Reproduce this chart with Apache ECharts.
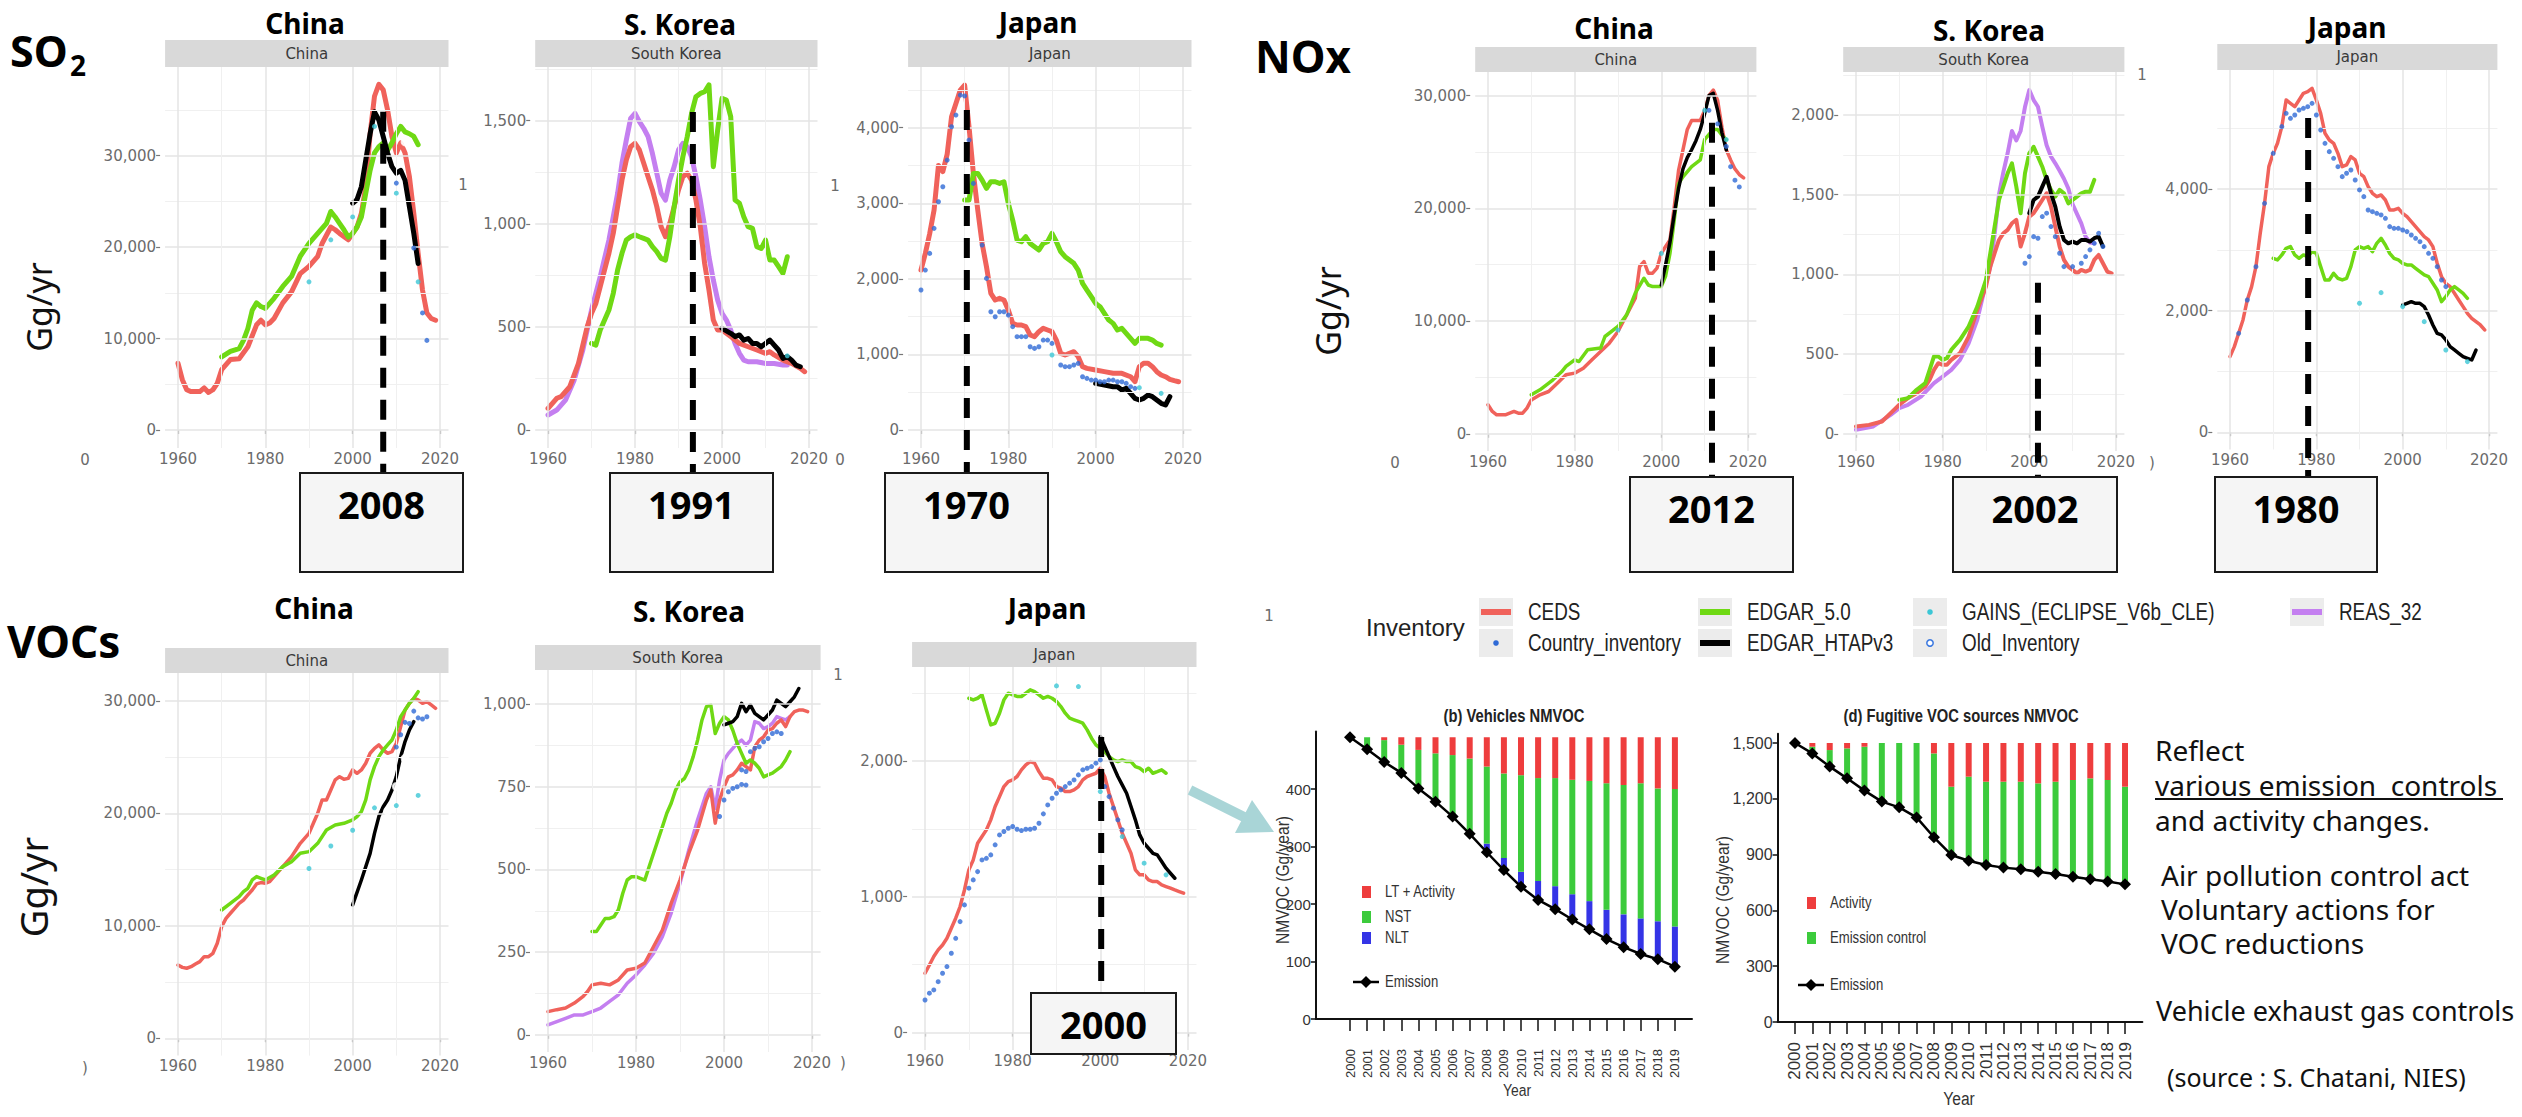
<!DOCTYPE html>
<html>
<head>
<meta charset="utf-8">
<script src="https://cdn.jsdelivr.net/npm/echarts@6.0.0/dist/echarts.min.js"></script>
<style>
html,body{margin:0;padding:0;background:#ffffff;}
#chart{width:2522px;height:1117px;}
</style>
</head>
<body>
<div id="chart"></div>
<script>
// ================= DATA =================
// ---- SO2 ----
const so2ChinaCEDS = [[1960,7300],[1961,5500],[1962,4400],[1963,4200],[1965,4200],[1966,4600],[1967,4100],[1968,4400],[1969,5100],[1970,6600],[1972,7700],[1974,7800],[1976,9100],[1978,11500],[1979,12000],[1980,11500],[1981,11700],[1982,12200],[1984,13900],[1986,15100],[1988,17100],[1990,17900],[1992,19000],[1993,20400],[1995,22200],[1996,21900],[1997,21500],[1999,20800],[2000,21500],[2001,22200],[2002,23700],[2003,26600],[2004,32400],[2005,36500],[2006,37800],[2007,37200],[2008,35000],[2009,32100],[2010,30300],[2011,31400],[2012,30300],[2013,27700],[2014,23700],[2015,19300],[2016,15300],[2017,12800],[2018,12200],[2019,12000]];
const so2ChinaEDGAR5 = [[1970,8000],[1972,8600],[1974,8900],[1975,9800],[1976,11100],[1977,13100],[1978,13900],[1979,13500],[1980,13300],[1982,14400],[1984,15700],[1986,16800],[1988,19000],[1990,20400],[1992,21500],[1994,22600],[1995,23900],[1996,23300],[1997,22600],[1998,21900],[1999,21100],[2000,21500],[2001,22200],[2002,23300],[2003,25900],[2004,28400],[2005,30300],[2006,31000],[2007,31400],[2008,30600],[2009,31400],[2010,32400],[2011,33200],[2012,32600],[2013,32400],[2014,32100],[2015,31200]];
const so2ChinaHTAP = [[2000,24800],[2001,25200],[2002,26600],[2003,29500],[2004,32400],[2005,34800],[2006,33900],[2007,32100],[2008,30300],[2009,28800],[2010,28100],[2011,28400],[2012,27300],[2013,24400],[2014,21500],[2015,18200]];
const so2ChinaCountry = [[2010,27000],[2014,19900],[2016,12800],[2017,9800]];
const so2ChinaOld = [[2012,31500]];
const so2ChinaGAINS = [[1990,16200],[1995,20800],[2000,23300],[2005,33200],[2010,25900],[2015,16200]];

const so2KoreaCEDS = [[1960,105],[1962,154],[1963,162],[1965,210],[1967,323],[1969,501],[1970,566],[1971,614],[1972,695],[1973,776],[1974,857],[1975,954],[1976,1083],[1977,1212],[1978,1309],[1979,1374],[1980,1390],[1981,1358],[1982,1293],[1983,1228],[1984,1164],[1985,1083],[1986,986],[1987,937],[1988,1002],[1989,1083],[1990,1164],[1991,1228],[1992,1245],[1993,1212],[1994,1115],[1995,986],[1996,808],[1997,679],[1998,533],[1999,485],[2000,485],[2001,469],[2002,453],[2004,420],[2006,404],[2008,388],[2010,372],[2011,380],[2012,364],[2014,339],[2016,323],[2018,299],[2019,283]];
const so2KoreaREAS = [[1960,73],[1962,97],[1964,145],[1966,242],[1968,388],[1970,582],[1972,744],[1974,921],[1976,1148],[1977,1293],[1978,1406],[1979,1511],[1980,1535],[1981,1495],[1982,1463],[1983,1422],[1984,1341],[1985,1245],[1986,1148],[1987,1115],[1988,1212],[1989,1277],[1990,1358],[1991,1390],[1992,1374],[1993,1325],[1994,1228],[1995,1115],[1996,986],[1997,840],[1998,727],[1999,630],[2000,566],[2001,533],[2002,485],[2003,420],[2004,372],[2005,339],[2006,331],[2008,331],[2010,323],[2012,323],[2014,315],[2015,315]];
const so2KoreaEDGAR5 = [[1970,420],[1971,412],[1972,485],[1973,533],[1974,582],[1975,663],[1976,776],[1977,857],[1978,921],[1979,937],[1980,946],[1981,937],[1982,929],[1983,921],[1984,889],[1985,865],[1986,832],[1987,824],[1988,937],[1989,1083],[1990,1212],[1991,1325],[1992,1422],[1993,1535],[1994,1616],[1995,1632],[1996,1640],[1997,1673],[1998,1277],[1999,1455],[2000,1608],[2001,1600],[2002,1519],[2003,1115],[2004,1099],[2005,1034],[2006,986],[2007,978],[2008,889],[2009,880],[2010,921],[2011,824],[2012,824],[2013,792],[2014,760],[2015,840]];
const so2KoreaHTAP = [[2000,493],[2002,469],[2003,453],[2004,461],[2005,436],[2006,444],[2007,420],[2008,420],[2009,404],[2010,420],[2011,436],[2012,412],[2013,388],[2014,347],[2015,356],[2016,339],[2017,315],[2018,307]];
const so2KoreaGAINS = [[2015,360]];

const so2JapanCEDS = [[1960,2116],[1961,2337],[1962,2601],[1963,2910],[1964,3500],[1965,3420],[1966,3650],[1967,4145],[1968,4321],[1969,4497],[1970,4563],[1971,4012],[1972,3395],[1973,2910],[1974,2469],[1975,2160],[1976,1808],[1977,1720],[1978,1742],[1979,1720],[1980,1587],[1981,1411],[1982,1389],[1983,1389],[1984,1367],[1985,1257],[1986,1235],[1987,1301],[1988,1345],[1989,1323],[1990,1301],[1991,1190],[1992,1014],[1993,992],[1994,1014],[1995,1036],[1996,970],[1997,838],[1998,816],[2000,794],[2002,772],[2004,750],[2006,750],[2008,705],[2009,639],[2010,838],[2011,882],[2012,882],[2013,838],[2014,772],[2015,728],[2016,705],[2017,670],[2018,653],[2019,639]];
const so2JapanEDGAR5 = [[1970,3042],[1971,3042],[1972,3395],[1973,3395],[1974,3307],[1975,3197],[1976,3285],[1977,3285],[1978,3263],[1979,3285],[1980,2998],[1981,2778],[1982,2513],[1983,2491],[1984,2557],[1985,2469],[1986,2425],[1987,2381],[1988,2469],[1989,2491],[1990,2601],[1991,2491],[1992,2359],[1993,2293],[1994,2249],[1995,2205],[1996,2116],[1997,1940],[1998,1852],[1999,1764],[2000,1675],[2001,1631],[2002,1543],[2003,1455],[2004,1411],[2005,1323],[2006,1345],[2007,1279],[2008,1213],[2009,1146],[2010,1213],[2011,1213],[2012,1213],[2013,1190],[2014,1146],[2015,1124]];
const so2JapanHTAP = [[2000,617],[2002,595],[2004,573],[2005,573],[2006,529],[2007,551],[2008,485],[2009,419],[2010,397],[2011,419],[2012,463],[2013,441],[2014,397],[2015,353],[2016,331],[2017,441]];
const so2JapanCountry = [[1960,1852],[1961,2116],[1962,2337],[1963,2668],[1964,3020],[1965,3219],[1966,3571],[1967,4012],[1968,4167],[1969,4431],[1970,4420],[1971,3836],[1972,3263],[1974,2447],[1975,2006],[1976,1565],[1977,1499],[1978,1565],[1979,1565],[1980,1521],[1981,1367],[1982,1235],[1983,1235],[1984,1235],[1985,1102],[1986,1080],[1987,1102],[1988,1190],[1989,1190],[1990,1146],[1992,860],[1993,838],[1994,838],[1995,860],[1996,882],[1997,705],[1998,683],[1999,661],[2000,661],[2001,639],[2002,639],[2003,661],[2004,661],[2005,639],[2006,639],[2007,617],[2008,573],[2009,551]];
const so2JapanGAINS = [[1990,992],[2010,560],[2015,485]];

// ---- NOx ----
const noxChinaCEDS = [[1960,2570],[1961,1980],[1962,1680],[1964,1680],[1966,1980],[1967,1830],[1968,1830],[1969,2280],[1970,3000],[1972,3460],[1974,3750],[1976,4490],[1978,5230],[1980,5380],[1982,5820],[1984,6560],[1986,7300],[1988,8040],[1990,9070],[1992,10550],[1994,12030],[1995,14840],[1996,15280],[1997,14250],[1998,14250],[1999,14690],[2000,16020],[2001,16610],[2002,17200],[2003,20160],[2004,23400],[2005,25200],[2006,27000],[2007,27800],[2008,27800],[2009,27800],[2010,28700],[2011,30000],[2012,30500],[2013,29600],[2014,27200],[2015,25200],[2016,24300],[2017,23500],[2018,23000],[2019,22700]];
const noxChinaEDGAR5 = [[1970,3460],[1972,3900],[1975,4790],[1977,5500],[1978,5970],[1980,6560],[1981,6410],[1983,7450],[1986,7600],[1987,8630],[1990,9520],[1992,10550],[1994,12470],[1996,13800],[1997,13200],[1998,13060],[2000,13060],[2001,14000],[2002,16000],[2003,19000],[2004,22200],[2005,22800],[2007,23700],[2009,24300],[2010,26100],[2012,27000],[2013,27000],[2014,26500],[2015,26100]];
const noxChinaHTAP = [[2000,13200],[2001,15000],[2002,17000],[2003,19500],[2004,21800],[2005,23500],[2006,24500],[2007,25200],[2008,26000],[2009,27000],[2010,28400],[2011,30000],[2012,30200],[2013,28700],[2014,26700],[2015,25200]];
const noxChinaCountry = [[2011,28700],[2013,27500],[2015,25500],[2016,23700],[2017,22500],[2018,21900]];
const noxChinaGAINS = [[1990,9200],[2000,16000],[2010,28700],[2015,26100]];

const noxKoreaCEDS = [[1960,46],[1963,56],[1966,77],[1968,130],[1970,182],[1972,224],[1974,255],[1976,297],[1977,339],[1978,401],[1979,443],[1980,433],[1981,433],[1982,464],[1984,506],[1986,610],[1988,777],[1990,924],[1991,1049],[1992,1133],[1993,1216],[1994,1258],[1995,1279],[1996,1321],[1997,1342],[1998,1175],[1999,1258],[2000,1363],[2001,1384],[2002,1425],[2003,1467],[2004,1509],[2005,1425],[2006,1300],[2007,1175],[2008,1091],[2009,1049],[2010,1028],[2011,1007],[2012,1028],[2013,1018],[2014,1028],[2015,1091],[2016,1122],[2017,1070],[2018,1018],[2019,1007]];
const noxKoreaREAS = [[1960,25],[1964,46],[1968,119],[1970,161],[1972,182],[1975,234],[1978,318],[1980,359],[1982,401],[1984,464],[1986,568],[1988,715],[1990,945],[1991,1050],[1992,1250],[1993,1500],[1994,1640],[1995,1760],[1996,1900],[1997,1840],[1998,1900],[1999,2050],[2000,2157],[2001,2094],[2002,2052],[2003,1927],[2004,1810],[2005,1740],[2006,1697],[2007,1650],[2008,1600],[2009,1540],[2010,1440],[2011,1380],[2012,1320],[2013,1237],[2014,1200],[2015,1195]];
const noxKoreaEDGAR5 = [[1970,213],[1972,224],[1974,276],[1976,318],[1977,401],[1978,485],[1979,485],[1980,464],[1981,474],[1982,527],[1984,589],[1986,673],[1988,798],[1990,966],[1991,1133],[1992,1300],[1993,1467],[1994,1551],[1995,1634],[1996,1697],[1997,1551],[1998,1384],[1999,1634],[2000,1760],[2001,1801],[2002,1739],[2003,1676],[2004,1593],[2005,1530],[2006,1488],[2007,1530],[2008,1509],[2009,1446],[2010,1467],[2011,1488],[2012,1509],[2013,1519],[2014,1519],[2015,1593]];
const noxKoreaHTAP = [[2000,1384],[2001,1467],[2002,1488],[2003,1551],[2004,1613],[2005,1509],[2006,1425],[2007,1300],[2008,1216],[2009,1195],[2010,1206],[2011,1195],[2012,1216],[2013,1216],[2014,1206],[2015,1227],[2016,1237],[2017,1175]];
const noxKoreaCountry = [[1999,1070],[2000,1112],[2001,1237],[2002,1227],[2003,1363],[2004,1384],[2005,1300],[2006,1237],[2007,1133],[2008,1049],[2010,1049],[2012,1070],[2013,1112],[2014,1154],[2015,1195],[2016,1258],[2017,1175]];

const noxJapanCEDS = [[1960,1244],[1961,1408],[1962,1627],[1963,1847],[1964,2175],[1965,2395],[1966,2723],[1967,3271],[1968,3764],[1969,4367],[1970,4586],[1971,4751],[1972,5025],[1973,5463],[1974,5408],[1975,5353],[1976,5463],[1977,5573],[1978,5600],[1979,5655],[1980,5463],[1981,5244],[1982,4915],[1983,4805],[1984,4751],[1985,4586],[1986,4367],[1987,4395],[1988,4532],[1989,4477],[1990,4258],[1991,4203],[1992,4038],[1993,3929],[1994,3874],[1995,3901],[1996,3819],[1997,3655],[1998,3655],[1999,3682],[2000,3600],[2001,3545],[2002,3463],[2003,3381],[2004,3299],[2005,3216],[2006,3162],[2007,3052],[2008,2778],[2009,2559],[2010,2449],[2011,2395],[2012,2285],[2013,2175],[2014,2066],[2015,1956],[2016,1874],[2017,1819],[2018,1764],[2019,1682]];
const noxJapanEDGAR5 = [[1970,2860],[1971,2833],[1972,2915],[1973,3025],[1974,3052],[1975,2915],[1976,2860],[1977,2915],[1978,2888],[1979,2970],[1980,2942],[1981,2723],[1982,2504],[1983,2504],[1984,2614],[1985,2532],[1986,2504],[1987,2532],[1988,2723],[1989,2997],[1990,3052],[1991,3025],[1992,3052],[1993,2970],[1994,3107],[1995,3189],[1996,3079],[1997,2942],[1998,2860],[1999,2833],[2000,2778],[2001,2751],[2002,2751],[2003,2696],[2004,2641],[2005,2586],[2006,2559],[2007,2449],[2008,2340],[2009,2148],[2010,2230],[2011,2340],[2012,2395],[2013,2340],[2014,2285],[2015,2203]];
const noxJapanHTAP = [[2000,2093],[2001,2121],[2002,2148],[2003,2121],[2004,2121],[2005,2066],[2006,1929],[2007,1764],[2008,1627],[2009,1600],[2010,1518],[2011,1408],[2012,1353],[2013,1299],[2014,1244],[2015,1216],[2016,1189],[2017,1353]];
const noxJapanCountry = [[1962,1627],[1964,2175],[1966,2723],[1968,3764],[1970,4586],[1972,5025],[1973,5244],[1974,5162],[1975,5216],[1976,5298],[1977,5326],[1978,5353],[1979,5408],[1980,5216],[1981,4970],[1982,4751],[1983,4614],[1984,4504],[1985,4367],[1986,4203],[1987,4258],[1988,4312],[1989,4148],[1990,3984],[1991,3874],[1992,3655],[1993,3627],[1994,3600],[1995,3573],[1996,3518],[1997,3381],[1998,3353],[1999,3353],[2000,3326],[2001,3299],[2002,3244],[2003,3189],[2004,3134],[2005,3052],[2006,2942],[2007,2860],[2008,2723],[2009,2504],[2010,2395]];
const noxJapanGAINS = [[1990,2121],[1995,2296],[2000,2066],[2005,1819],[2010,1353],[2015,1162]];

// ---- VOCs ----
const vocChinaCEDS = [[1960,6520],[1961,6310],[1962,6230],[1963,6370],[1964,6610],[1965,6820],[1966,7260],[1967,7260],[1968,7560],[1969,8450],[1970,9930],[1971,10670],[1972,11120],[1973,11560],[1974,12000],[1975,12300],[1976,12750],[1977,13190],[1978,13730],[1979,13850],[1980,13790],[1981,13930],[1982,14380],[1983,14820],[1984,15270],[1985,15710],[1986,16160],[1987,16750],[1988,17340],[1989,17790],[1990,18230],[1991,19120],[1992,20010],[1993,21200],[1994,21200],[1995,22090],[1996,22980],[1997,23270],[1998,23040],[1999,23120],[2000,23870],[2001,23570],[2002,23870],[2003,24460],[2004,25350],[2005,25790],[2006,26090],[2007,25640],[2008,25350],[2009,25500],[2010,26240],[2011,27720],[2012,29200],[2013,29800],[2014,30240],[2015,30090],[2016,29800],[2017,29940],[2018,29650],[2019,29350]];
const vocChinaEDGAR5 = [[1970,11410],[1972,12000],[1974,12600],[1975,13040],[1976,13340],[1977,14080],[1978,14380],[1979,14230],[1980,14080],[1982,14530],[1984,15270],[1986,15710],[1988,16450],[1990,16600],[1992,17340],[1994,18530],[1996,18970],[1998,19120],[2000,19420],[2001,19720],[2002,20160],[2003,21200],[2004,22980],[2005,24160],[2006,25050],[2007,25640],[2008,26090],[2009,26530],[2010,27420],[2011,28610],[2012,29200],[2013,29800],[2014,30240],[2015,30830]];
const vocChinaHTAP = [[2000,11860],[2002,14080],[2004,16450],[2005,18230],[2006,19720],[2007,20600],[2008,21200],[2009,22090],[2010,23270],[2011,25050],[2012,26390],[2013,27420],[2014,28160]];
const vocChinaCountry = [[2010,25900],[2011,27000],[2012,28100],[2013,28000],[2014,29100],[2015,28500],[2016,28400],[2017,28600]];
const vocChinaOld = [[2008,20200],[2010,22400],[2012,24900]];
const vocChinaGAINS = [[1990,15100],[1995,17100],[2000,18500],[2005,20500],[2010,20700],[2015,21600]];

const vocKoreaCEDS = [[1960,70],[1962,76],[1964,81],[1966,96],[1968,116],[1969,131],[1970,151],[1972,156],[1974,151],[1976,166],[1978,196],[1980,201],[1982,217],[1984,267],[1986,317],[1988,398],[1990,468],[1992,549],[1994,619],[1996,710],[1997,740],[1998,640],[1999,710],[2000,750],[2001,780],[2002,786],[2003,801],[2004,821],[2005,811],[2006,801],[2007,871],[2008,891],[2009,901],[2010,921],[2011,926],[2012,942],[2013,952],[2014,932],[2015,962],[2016,977],[2017,982],[2018,982],[2019,977]];
const vocKoreaREAS = [[1960,30],[1962,40],[1964,50],[1966,60],[1968,60],[1970,70],[1972,81],[1974,101],[1976,121],[1978,156],[1980,181],[1982,211],[1984,247],[1986,297],[1988,368],[1990,458],[1992,559],[1994,650],[1996,730],[1997,750],[1998,685],[1999,770],[2000,831],[2001,851],[2002,866],[2003,881],[2004,891],[2005,876],[2006,891],[2007,947],[2008,942],[2009,926],[2010,932],[2011,942],[2012,962],[2013,957],[2014,952],[2015,962]];
const vocKoreaEDGAR5 = [[1970,312],[1971,312],[1972,332],[1973,352],[1974,352],[1975,357],[1976,378],[1977,428],[1978,468],[1979,478],[1980,478],[1981,473],[1982,468],[1983,509],[1984,549],[1985,589],[1986,629],[1987,670],[1988,700],[1989,740],[1990,765],[1991,775],[1992,801],[1993,841],[1994,891],[1995,952],[1996,992],[1997,997],[1998,911],[1999,942],[2000,962],[2001,952],[2002,921],[2003,881],[2004,851],[2005,821],[2006,831],[2007,821],[2008,806],[2009,780],[2010,786],[2011,791],[2012,801],[2013,811],[2014,831],[2015,856]];
const vocKoreaHTAP = [[2000,937],[2001,942],[2002,947],[2003,962],[2004,1002],[2005,977],[2006,997],[2007,972],[2008,962],[2009,952],[2010,967],[2011,982],[2012,1012],[2013,1002],[2014,992],[2015,1007],[2016,1022],[2017,1047]];
const vocKoreaCountry = [[1999,660],[2000,710],[2001,735],[2002,745],[2003,750],[2004,757],[2005,755],[2004,801],[2005,796],[2006,856],[2007,866],[2008,871],[2009,886],[2010,896],[2011,911],[2012,916],[2013,911]];

const vocJapanCEDS = [[1960,437],[1961,498],[1962,560],[1963,609],[1964,645],[1965,694],[1966,768],[1967,842],[1968,928],[1969,1050],[1970,1198],[1971,1271],[1972,1394],[1973,1443],[1974,1492],[1975,1566],[1976,1664],[1977,1737],[1978,1811],[1979,1848],[1980,1860],[1981,1885],[1982,1934],[1983,1971],[1984,1995],[1985,1983],[1986,1921],[1987,1872],[1988,1872],[1989,1860],[1990,1811],[1991,1799],[1992,1774],[1993,1774],[1994,1787],[1995,1811],[1996,1860],[1997,1885],[1998,1897],[1999,1909],[2000,1946],[2001,1885],[2002,1762],[2003,1664],[2004,1566],[2005,1467],[2006,1394],[2007,1320],[2008,1198],[2009,1161],[2010,1161],[2011,1124],[2012,1112],[2013,1112],[2014,1087],[2015,1075],[2016,1063],[2017,1050],[2018,1038],[2019,1026]];
const vocJapanEDGAR5 = [[1970,2461],[1971,2449],[1972,2461],[1973,2486],[1974,2375],[1975,2265],[1976,2277],[1977,2351],[1978,2449],[1979,2498],[1980,2486],[1981,2474],[1982,2474],[1983,2498],[1984,2523],[1985,2510],[1986,2486],[1987,2461],[1988,2474],[1989,2461],[1990,2437],[1991,2400],[1992,2351],[1993,2314],[1994,2302],[1995,2290],[1996,2277],[1997,2228],[1998,2167],[1999,2118],[2000,2093],[2001,2069],[2002,2032],[2003,2007],[2004,1995],[2005,2007],[2006,1995],[2007,1995],[2008,1958],[2009,1946],[2010,1921],[2011,1946],[2012,1909],[2013,1921],[2014,1934],[2015,1909]];
const vocJapanHTAP = [[2000,2179],[2001,2106],[2002,2032],[2003,1958],[2004,1885],[2005,1823],[2006,1762],[2007,1664],[2008,1566],[2009,1455],[2010,1394],[2011,1357],[2012,1320],[2013,1308],[2014,1259],[2015,1210],[2016,1173],[2017,1136]];
const vocJapanCountry = [[1960,240],[1961,290],[1962,314],[1963,375],[1964,437],[1965,486],[1966,584],[1967,694],[1968,817],[1969,940],[1970,1063],[1971,1124],[1972,1185],[1973,1271],[1974,1283],[1975,1308],[1976,1382],[1977,1455],[1978,1480],[1979,1504],[1980,1517],[1981,1497],[1982,1487],[1983,1497],[1984,1497],[1985,1504],[1986,1541],[1987,1610],[1988,1676],[1989,1725],[1990,1762],[1991,1787],[1992,1811],[1993,1836],[1994,1860],[1995,1897],[1996,1934],[1997,1946],[1998,1958],[1999,1983],[2000,2007],[2001,1811],[2002,1737],[2003,1652],[2004,1566],[2005,1492]];
const vocJapanGAINS = [[1990,2552],[1995,2547],[2000,1774],[2005,1443],[2010,1247],[2015,1161]];

// ---- peak-year annotations ----
const peakLabels = ['2008','1991','1970','2012','2002','1980','2000'];
const dashYears  = [2007, 1993.3, 1970.5, 2011.7, 2002.0, 1978.1, 2000.2];
const dashTops   = [34800, 1542, 4234, 27600, 947, 5167, 2176];

// ---- NMVOC decomposition bar charts (Gg/year) ----
const barYears = ['2000','2001','2002','2003','2004','2005','2006','2007','2008','2009','2010','2011','2012','2013','2014','2015','2016','2017','2018','2019'];
const vehEmission = [490,469,447,428,401,378,352,322,290,259,230,207,191,173,156,139,125,113,104,91];
const vehNLT      = [0,0,0,0,0,0,0,0,15,21,26,33,40,44,49,51,57,62,66,70];
const vehNST      = [0,21,38,49,67,84,107,131,134,147,168,179,188,199,209,220,225,235,231,239];
const vehLTAct    = [0,0,5,13,22,28,31,37,51,63,66,71,71,74,76,80,83,80,89,90];
const fugEmission = [1500,1444,1373,1310,1244,1185,1154,1100,993,898,867,844,830,821,808,796,781,767,755,740];
const fugControl  = [0,36,89,161,236,315,346,400,451,367,452,448,462,471,475,496,520,543,546,525];
const fugActivity = [0,20,38,29,20,0,0,0,56,235,181,208,208,208,217,208,199,190,199,235];

// ---- axis tick labels ----
const xTickYears = [1960,1980,2000,2020];
const xMinorYears = [1970,1990,2010];
const vehYTicks = [0,100,200,300,400];
const fugYTicks = [0,300,600,900,1200,1500];

// ================= STYLE / LAYOUT =================
const INV = {
  'CEDS': {color:'#f0625b', kind:'line', z:3},
  'EDGAR_5.0': {color:'#6fd914', kind:'line', z:3},
  'EDGAR_HTAPv3': {color:'#000000', kind:'line', z:4},
  'REAS_32': {color:'#c47ff0', kind:'line', z:3},
  'Country_inventory': {color:'#2f6ad6', kind:'dot', z:5},
  'GAINS_(ECLIPSE_V6b_CLE)': {color:'#3cc7d6', kind:'dot', z:5},
  'Old_Inventory': {color:'#3b78e0', kind:'ring', z:5}
};
const XMIN = 1957.05, XMAX = 2021.95;
const MAJOR = {color:'#e4e4e4', width:1.5, type:'solid'};
const MINOR = {color:'#f0f0f0', width:1, type:'solid'};

const panels = [
  {strip:'China', g:[165.1,67,283.4,381], sh:27, yr:[-1970,39700], yt:[0,10000,20000,30000], ym:[5000,15000,25000,35000], lw:5,
   s:[['CEDS',so2ChinaCEDS],['EDGAR_5.0',so2ChinaEDGAR5],['EDGAR_HTAPv3',so2ChinaHTAP],['Country_inventory',so2ChinaCountry],['GAINS_(ECLIPSE_V6b_CLE)',so2ChinaGAINS],['Old_Inventory',so2ChinaOld]]},
  {strip:'South Korea', g:[535.2,67,282.3,381], sh:27, yr:[-87,1760], yt:[0,500,1000,1500], ym:[250,750,1250,1750], lw:5,
   s:[['REAS_32',so2KoreaREAS],['CEDS',so2KoreaCEDS],['EDGAR_5.0',so2KoreaEDGAR5],['EDGAR_HTAPv3',so2KoreaHTAP],['GAINS_(ECLIPSE_V6b_CLE)',so2KoreaGAINS]]},
  {strip:'Japan', g:[908.1,67,283.4,381], sh:27, yr:[-238,4803], yt:[0,1000,2000,3000,4000], ym:[500,1500,2500,3500,4500], lw:5,
   s:[['CEDS',so2JapanCEDS],['EDGAR_5.0',so2JapanEDGAR5],['EDGAR_HTAPv3',so2JapanHTAP],['Country_inventory',so2JapanCountry],['GAINS_(ECLIPSE_V6b_CLE)',so2JapanGAINS]]},
  {strip:'China', g:[1475.2,72,281.2,379], sh:25, yr:[-1530,32100], yt:[0,10000,20000,30000], ym:[5000,15000,25000], lw:3.5,
   s:[['CEDS',noxChinaCEDS],['EDGAR_5.0',noxChinaEDGAR5],['EDGAR_HTAPv3',noxChinaHTAP],['Country_inventory',noxChinaCountry],['GAINS_(ECLIPSE_V6b_CLE)',noxChinaGAINS]]},
  {strip:'South Korea', g:[1843.2,72,281.2,379], sh:25, yr:[-108,2270], yt:[0,500,1000,1500,2000], ym:[250,750,1250,1750,2250], lw:4,
   s:[['REAS_32',noxKoreaREAS],['CEDS',noxKoreaCEDS],['EDGAR_5.0',noxKoreaEDGAR5],['EDGAR_HTAPv3',noxKoreaHTAP],['Country_inventory',noxKoreaCountry]]},
  {strip:'Japan', g:[2217.3,70,280.1,379.5], sh:26, yr:[-283,5956], yt:[0,2000,4000], ym:[1000,3000,5000], lw:3.5,
   s:[['CEDS',noxJapanCEDS],['EDGAR_5.0',noxJapanEDGAR5],['EDGAR_HTAPv3',noxJapanHTAP],['Country_inventory',noxJapanCountry],['GAINS_(ECLIPSE_V6b_CLE)',noxJapanGAINS]]},
  {strip:'China', g:[165.1,673,283.4,382.6], sh:25, yr:[-1540,32490], yt:[0,10000,20000,30000], ym:[5000,15000,25000], lw:3.5,
   s:[['CEDS',vocChinaCEDS],['EDGAR_5.0',vocChinaEDGAR5],['EDGAR_HTAPv3',vocChinaHTAP],['Country_inventory',vocChinaCountry],['Old_Inventory',vocChinaOld],['GAINS_(ECLIPSE_V6b_CLE)',vocChinaGAINS]]},
  {strip:'South Korea', g:[535,670,285.6,382], sh:25, yr:[-52,1103], yt:[0,250,500,750,1000], ym:[125,375,625,875], lw:3.5,
   s:[['REAS_32',vocKoreaREAS],['CEDS',vocKoreaCEDS],['EDGAR_5.0',vocKoreaEDGAR5],['EDGAR_HTAPv3',vocKoreaHTAP],['Country_inventory',vocKoreaCountry]]},
  {strip:'Japan', g:[912.1,667,284.4,383], sh:25, yr:[-128,2691], yt:[0,1000,2000], ym:[500,1500,2500], lw:3.5,
   s:[['CEDS',vocJapanCEDS],['EDGAR_5.0',vocJapanEDGAR5],['EDGAR_HTAPv3',vocJapanHTAP],['Country_inventory',vocJapanCountry],['GAINS_(ECLIPSE_V6b_CLE)',vocJapanGAINS]]}
];
const dashPanels = [0,1,2,3,4,5,8];
// [x, y, w, h, text-centre offset from top]  (text is top-anchored in the taller boxes)
const boxes = [[300,473,163,99,31],[610,473,163,99,31],[885,473,163,99,31],[1630,477,163,95,31],[1953,477,164,95,31],[2215,477,162,95,31],[1031,993,145,61,31]];

const titles = [['China',305,23],['S. Korea',680,24],['Japan',1038,22],['China',1614,28],['S. Korea',1989,30],['Japan',2347,27],['China',314,608],['S. Korea',689,611],['Japan',1047,608]];

const FONT_TICK = 'DejaVu Sans';
const SANS = '"Liberation Sans", Arial, sans-serif';
const NARROW_X = 0.82;   // horizontal squeeze that imitates Arial Narrow

// ================= BUILD =================
const grids = [], xAxes = [], yAxes = [], series = [], graphics = [];
const fmtK = v => Math.round(v).toLocaleString('en-US');

function addText(text, x, y, font, opts) {
  opts = opts || {};
  const el = {type:'text', x:x, y:y, z:opts.z || 50, silent:true,
    style:{text:text, font:font, fill:opts.fill || '#111', align:opts.align || 'left', verticalAlign:opts.va || 'middle'}};
  if (opts.rot) el.rotation = opts.rot;
  if (opts.sx) el.scaleX = opts.sx;
  graphics.push(el);
}

panels.forEach((p, i) => {
  const gi = grids.length;
  grids.push({left:p.g[0], top:p.g[1], width:p.g[2], height:p.g[3]});
  xAxes.push({type:'value', gridIndex:gi, min:XMIN, max:XMAX, offset:1,
    axisLine:{show:false}, splitLine:{show:false},
    axisTick:{show:true, customValues:xTickYears, length:4, lineStyle:{color:'#777', width:1.2}},
    axisLabel:{customValues:xTickYears, margin:2, color:'#6b6b6b', fontSize:15, fontFamily:FONT_TICK, formatter:v=>String(v)}});
  yAxes.push({type:'value', gridIndex:gi, min:p.yr[0], max:p.yr[1], offset:5,
    axisLine:{show:false}, splitLine:{show:false},
    axisTick:{show:true, customValues:p.yt, length:4, lineStyle:{color:'#777', width:1.2}},
    axisLabel:{customValues:p.yt, margin:4, color:'#6b6b6b', fontSize:15, fontFamily:FONT_TICK, formatter:fmtK}});
  const ml = [];
  p.yt.forEach(v => ml.push({yAxis:v, lineStyle:MAJOR}));
  p.ym.forEach(v => ml.push({yAxis:v, lineStyle:MINOR}));
  xTickYears.forEach(v => ml.push({xAxis:v, lineStyle:MAJOR}));
  xMinorYears.forEach(v => ml.push({xAxis:v, lineStyle:MINOR}));
  series.push({type:'line', name:'grid'+i, xAxisIndex:gi, yAxisIndex:gi, data:[], z:1, silent:true,
    markLine:{silent:true, symbol:['none','none'], label:{show:false}, animation:false, data:ml}});
  p.s.forEach(([name, data]) => {
    const inv = INV[name];
    if (inv.kind === 'line') {
      series.push({name:name, type:'line', xAxisIndex:gi, yAxisIndex:gi, data:data, showSymbol:false, symbol:'none', z:inv.z, silent:true,
        lineStyle:{color:inv.color, width:p.lw, cap:'round', join:'round'}, itemStyle:{color:inv.color}});
    } else {
      const ring = inv.kind === 'ring';
      series.push({name:name, type:'scatter', xAxisIndex:gi, yAxisIndex:gi, data:data, z:inv.z, silent:true,
        symbol: ring ? 'emptyCircle' : 'circle', symbolSize: ring ? 7 : 5,
        itemStyle: ring ? {color:'#ffffff', borderColor:inv.color, borderWidth:1.6} : {color:inv.color}});
    }
  });
  graphics.push({type:'rect', z:20, silent:true, shape:{x:p.g[0], y:p.g[1]-p.sh, width:p.g[2], height:p.sh}, style:{fill:'#d9d9d9'}});
  addText(p.strip, p.g[0] + p.g[2]/2, p.g[1] - p.sh/2, '15px "DejaVu Sans"', {align:'center', fill:'#3a3a3a', z:21});
});

// dashed peak-year lines: overlay grids sharing each panel's x scale, reaching down to the label box
dashPanels.forEach((pi, k) => {
  const p = panels[pi];
  const b = boxes[k];
  const h = b[1] - p.g[1];
  const vpp = (p.yr[1] - p.yr[0]) / p.g[3];
  const oMin = p.yr[1] - h * vpp;
  const gi = grids.length;
  grids.push({left:p.g[0], top:p.g[1], width:p.g[2], height:h});
  xAxes.push({type:'value', gridIndex:gi, min:XMIN, max:XMAX, show:false});
  yAxes.push({type:'value', gridIndex:gi, min:oMin, max:p.yr[1], show:false});
  series.push({type:'line', name:'peak '+peakLabels[k], xAxisIndex:gi, yAxisIndex:gi, z:10, silent:true, symbol:'none', showSymbol:false,
    data:[[dashYears[k], dashTops[k]], [dashYears[k], oMin]],
    lineStyle:{color:'#000', width:6, type:[20,12], cap:'butt'}});
  graphics.push({type:'rect', z:60, silent:true, shape:{x:b[0], y:b[1], width:b[2], height:b[3]}, style:{fill:'#f5f5f5', stroke:'#1a1a1a', lineWidth:2}});
  addText(peakLabels[k], b[0] + b[2]/2, b[1] + b[4], 'bold 38px "Noto Sans"', {align:'center', fill:'#000', z:61});
});

// ---- stacked decomposition bars on category axes ----
function barChart(cfg) {
  const gi = grids.length;
  grids.push({left:cfg.left, top:cfg.top, width:cfg.width, height:cfg.height});
  const cats = cfg.padBefore.concat(barYears, cfg.padAfter);
  const first = cfg.padBefore.length, last = first + barYears.length - 1;
  const shown = i => i >= first && i <= last;
  xAxes.push({type:'category', gridIndex:gi, data:cats, boundaryGap:false,
    axisLine:{show:true, lineStyle:{color:'#111', width:2}}, splitLine:{show:false},
    axisTick:{show:true, interval:shown, length:12, lineStyle:{color:'#111', width:1.5}},
    axisLabel:{interval:shown, rotate:90, margin:cfg.labelMargin, color:'#333', fontSize:cfg.xFont, fontFamily:SANS}});
  yAxes.push({type:'value', gridIndex:gi, min:0, max:cfg.ymax,
    axisLine:{show:true, lineStyle:{color:'#111', width:2}}, splitLine:{show:false},
    axisTick:{show:true, customValues:cfg.yTicks, length:5, lineStyle:{color:'#111', width:1.5}},
    axisLabel:{customValues:cfg.yTicks, margin:5, color:'#333', fontSize:cfg.yFont, fontFamily:SANS}});
  const pair = arr => barYears.map((y, i) => [y, arr[i]]);
  series.push({name:'base '+cfg.stack, type:'bar', stack:cfg.stack, xAxisIndex:gi, yAxisIndex:gi, barWidth:6, silent:true,
    data:pair(cfg.emission), itemStyle:{color:'rgba(0,0,0,0)'}});
  cfg.parts.forEach(([name, arr, color]) => {
    series.push({name:name, type:'bar', stack:cfg.stack, xAxisIndex:gi, yAxisIndex:gi, barWidth:6, silent:true, data:pair(arr), itemStyle:{color:color}});
  });
  series.push({name:'Emission', type:'line', xAxisIndex:gi, yAxisIndex:gi, z:10, silent:true, data:pair(cfg.emission), symbol:'diamond', symbolSize:12,
    lineStyle:{color:'#000', width:2.5}, itemStyle:{color:'#000'}});
}
barChart({left:1315.8, top:731.5, width:376.2, height:287.5, ymax:500, yTicks:vehYTicks, padBefore:['1998','1999'], padAfter:['2020'],
  labelMargin:30, xFont:13, yFont:15, stack:'veh', emission:vehEmission,
  parts:[['NLT', vehNLT, '#3434e6'], ['NST', vehNST, '#3ccb3c'], ['LT + Activity', vehLTAct, '#ee3d3d']]});
barChart({left:1777.6, top:733.7, width:364.8, height:288.3, ymax:1550, yTicks:fugYTicks, padBefore:['1999'], padAfter:['2020'],
  labelMargin:20, xFont:17, yFont:16, stack:'fug', emission:fugEmission,
  parts:[['Emission control', fugControl, '#3ccb3c'], ['Activity', fugActivity, '#ee3d3d']]});

// ---- free text & decorations ----
addText('SO', 10, 50, 'bold 43px "Noto Sans"', {fill:'#000'});
addText('2', 70, 65, 'bold 28px "Noto Sans"', {fill:'#000'});
addText('NOx', 1255, 56, 'bold 44px "Noto Sans"', {fill:'#000'});
addText('VOCs', 7, 641, 'bold 44px "Noto Sans"', {fill:'#000'});
titles.forEach(t => addText(t[0], t[1], t[2], 'bold 28px "Noto Sans"', {align:'center', fill:'#000'}));
addText('Gg/yr', 39, 307, '34px "Noto Sans"', {align:'center', rot:Math.PI/2});
addText('Gg/yr', 1328, 311, '34px "Noto Sans"', {align:'center', rot:Math.PI/2});
addText('Gg/yr', 33, 887, '38px "Noto Sans"', {align:'center', rot:Math.PI/2});
// stray fragments of neighbouring (cropped) axes
[['0',85,460],['0',840,460],['0',1395,463],[')',2152,463],[')',85,1068],[')',843,1063],
 ['1',463,185],['1',835,186],['1',2142,75],['1',838,675],['1',1269,616]]
 .forEach(t => addText(t[0], t[1], t[2], '15px "DejaVu Sans"', {align:'center', fill:'#6b6b6b'}));

// arrow
graphics.push({type:'line', z:30, silent:true, shape:{x1:1190, y1:790, x2:1244, y2:817}, style:{stroke:'#a9d5d7', lineWidth:10}});
graphics.push({type:'polygon', z:30, silent:true, shape:{points:[[1235,833],[1252,800],[1274,832]]}, style:{fill:'#a9d5d7'}});

// inventory legend
addText('Inventory', 1366, 627, '24px ' + SANS, {fill:'#222'});
const legendItems = [['CEDS',0,0],['EDGAR_5.0',1,0],['GAINS_(ECLIPSE_V6b_CLE)',2,0],['REAS_32',3,0],['Country_inventory',0,1],['EDGAR_HTAPv3',1,1],['Old_Inventory',2,1]];
const legColX = [1479, 1698, 1913, 2290];
const legRowY = [612, 643];
legendItems.forEach(([name, c, r]) => {
  const x = legColX[c], y = legRowY[r], inv = INV[name];
  graphics.push({type:'rect', z:40, silent:true, shape:{x:x, y:y-14, width:34, height:28}, style:{fill:'#ececec'}});
  if (inv.kind === 'line') {
    graphics.push({type:'line', z:41, silent:true, shape:{x1:x+2, y1:y, x2:x+32, y2:y}, style:{stroke:inv.color, lineWidth:6}});
  } else if (inv.kind === 'dot') {
    graphics.push({type:'circle', z:41, silent:true, shape:{cx:x+17, cy:y, r:2.8}, style:{fill:inv.color}});
  } else {
    graphics.push({type:'circle', z:41, silent:true, shape:{cx:x+17, cy:y, r:3.2}, style:{fill:'#fff', stroke:inv.color, lineWidth:1.5}});
  }
  addText(name, x + 49, y, '23px ' + SANS, {fill:'#222', sx:NARROW_X});
});

// bar chart titles, axis names and inner legends
addText('(b) Vehicles NMVOC', 1514, 715, 'bold 18px ' + SANS, {align:'center', fill:'#222', sx:NARROW_X});
addText('(d) Fugitive VOC sources NMVOC', 1961, 715, 'bold 18px ' + SANS, {align:'center', fill:'#222', sx:NARROW_X});
addText('NMVOC (Gg/year)', 1282, 880, '19px ' + SANS, {align:'center', fill:'#333', rot:Math.PI/2, sx:NARROW_X});
addText('NMVOC (Gg/year)', 1722, 900, '19px ' + SANS, {align:'center', fill:'#333', rot:Math.PI/2, sx:NARROW_X});
addText('Year', 1517, 1090, '17px ' + SANS, {align:'center', fill:'#333', sx:NARROW_X});
addText('Year', 1959, 1098, '19px ' + SANS, {align:'center', fill:'#333', sx:NARROW_X});
function legSquare(x, y, color){ graphics.push({type:'rect', z:40, silent:true, shape:{x:x, y:y-6, width:9, height:12}, style:{fill:color}}); }
function legEmission(x1, x2, y){
  graphics.push({type:'line', z:40, silent:true, shape:{x1:x1, y1:y, x2:x2, y2:y}, style:{stroke:'#000', lineWidth:2.5}});
  const cx = (x1 + x2) / 2;
  graphics.push({type:'polygon', z:41, silent:true, shape:{points:[[cx,y-6],[cx+6,y],[cx,y+6],[cx-6,y]]}, style:{fill:'#000'}});
}
const LEGF = '16px ' + SANS;
legSquare(1362, 892, '#ee3d3d'); addText('LT + Activity', 1385, 892, LEGF, {fill:'#333', sx:NARROW_X});
legSquare(1362, 917, '#3ccb3c'); addText('NST', 1385, 917, LEGF, {fill:'#333', sx:NARROW_X});
legSquare(1362, 938, '#3434e6'); addText('NLT', 1385, 938, LEGF, {fill:'#333', sx:NARROW_X});
legEmission(1353, 1379, 982); addText('Emission', 1385, 982, LEGF, {fill:'#333', sx:NARROW_X});
legSquare(1807, 903, '#ee3d3d'); addText('Activity', 1830, 903, LEGF, {fill:'#333', sx:NARROW_X});
legSquare(1807, 938, '#3ccb3c'); addText('Emission control', 1830, 938, LEGF, {fill:'#333', sx:NARROW_X});
legEmission(1798, 1824, 985); addText('Emission', 1830, 985, LEGF, {fill:'#333', sx:NARROW_X});

// explanatory notes
const NOTE = '28px "Noto Sans"';
addText('Reflect', 2155, 750, NOTE);
addText('various emission\u00a0 controls', 2155, 785, NOTE);
graphics.push({type:'line', z:50, silent:true, shape:{x1:2155, y1:799, x2:2503, y2:799}, style:{stroke:'#111', lineWidth:2}});
addText('and activity changes.', 2155, 820, NOTE);
addText('Air pollution control act', 2161, 875, NOTE);
addText('Voluntary actions for', 2161, 909, NOTE);
addText('VOC reductions', 2161, 943, NOTE);
addText('Vehicle exhaust gas controls', 2156, 1010, '27px "Noto Sans"');
addText('(source : S. Chatani, NIES)', 2167, 1077, '25px "Noto Sans"');

const chart = echarts.init(document.getElementById('chart'), null, {renderer:'svg', width:2522, height:1117});
chart.setOption({
  backgroundColor:'#ffffff',
  animation:false,
  grid:grids, xAxis:xAxes, yAxis:yAxes, series:series,
  graphic:{elements:graphics}
});
</script>
</body>
</html>
